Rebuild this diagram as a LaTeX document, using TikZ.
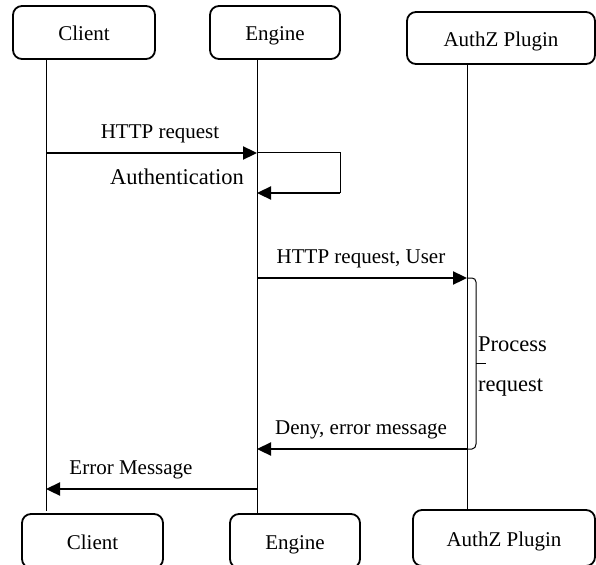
\documentclass[tikz,border=0pt]{standalone}
\usepackage{fontspec}
\setmainfont{Liberation Serif}
\usetikzlibrary{arrows.meta}
\begin{document}
\begin{tikzpicture}[x=1pt,y=-1pt,
  box/.style={draw,line width=1.8pt,rounded corners=9pt,inner sep=0pt,text height=17pt,text depth=0pt,font=\fontsize{21}{25}\selectfont},
  life/.style={line width=0.9pt},
  msg/.style={line width=2.3pt,-{Triangle[length=14pt,width=13pt]}},
  thin/.style={line width=1pt},
  lbl/.style={inner sep=0pt,font=\fontsize{21}{25}\selectfont},
  big/.style={inner sep=0pt,font=\fontsize{22.5}{27}\selectfont}]
\clip (0,0) rectangle (596,564);
\useasboundingbox (0,0) rectangle (596,564);
% top boxes
\node[box,minimum width=142pt,minimum height=53pt] (ct) at (84,32.5) {Client};
\node[box,minimum width=130pt,minimum height=53pt] (et) at (275,32.5) {Engine};
\node[box,minimum width=188pt,minimum height=52pt] (at) at (501,38) {AuthZ Plugin};
% bottom boxes
\node[box,minimum width=141pt,minimum height=54pt] (cb) at (92.5,541) {Client};
\node[box,minimum width=130pt,minimum height=54pt] (eb) at (295,541) {Engine};
\node[box,minimum width=182pt,minimum height=56pt] (ab) at (504,538) {AuthZ Plugin};
% lifeline coordinates
\coordinate (c0) at (46,59);   \coordinate (c1) at (46,511);
\coordinate (e0) at (257,59);  \coordinate (e1) at (257,513);
\coordinate (a0) at (467,64);  \coordinate (a1) at (467,510);
\draw[life] (c0) -- (c1);
\draw[life] (e0) -- (e1);
\draw[life] (a0) -- (a1);
% message points
\coordinate (cA) at (46,153);  \coordinate (eA) at (257,153);
\coordinate (lA) at (340,153); \coordinate (lB) at (340,193);
\coordinate (eB) at (257,193);
\coordinate (eC) at (257,278); \coordinate (aC) at (467,278);
\coordinate (aD) at (467,449); \coordinate (eD) at (257,449);
\coordinate (eE) at (257,489); \coordinate (cE) at (46,489);
% messages
\draw[msg] (cA) -- (eA);
\draw[thin] (eA) -- (lA) -- (lB);
\draw[msg] (lB) -- (eB);
\draw[msg] (eC) -- (aC);
\draw[msg] (aD) -- (eD);
\draw[msg] (eE) -- (cE);
% activation brace
\coordinate (b0) at (476,282);
\coordinate (b1) at (476,444);
\coordinate (bm) at (476,363);
\coordinate (bt) at (486,363);
\draw[thin] (aC) -- (472,278) to[out=0,in=90] (b0) -- (b1) to[out=-90,in=0] (472,449) -- (aD);
\draw[thin] (bm) -- (bt);
% labels
\node[lbl] (l1) at (160,134) {HTTP request};
\node[big] (l2) at (177,177) {Authentication};
\node[lbl] (l3) at (361,259) {HTTP request, User};
\node[big,anchor=west] (l4) at (478,344) {Process};
\node[big,anchor=west] (l5) at (478,388) {request};
\node[lbl] (l6) at (361,430) {Deny, error message};
\node[lbl] (l7) at (131,470) {Error Message};
\end{tikzpicture}
\end{document}
